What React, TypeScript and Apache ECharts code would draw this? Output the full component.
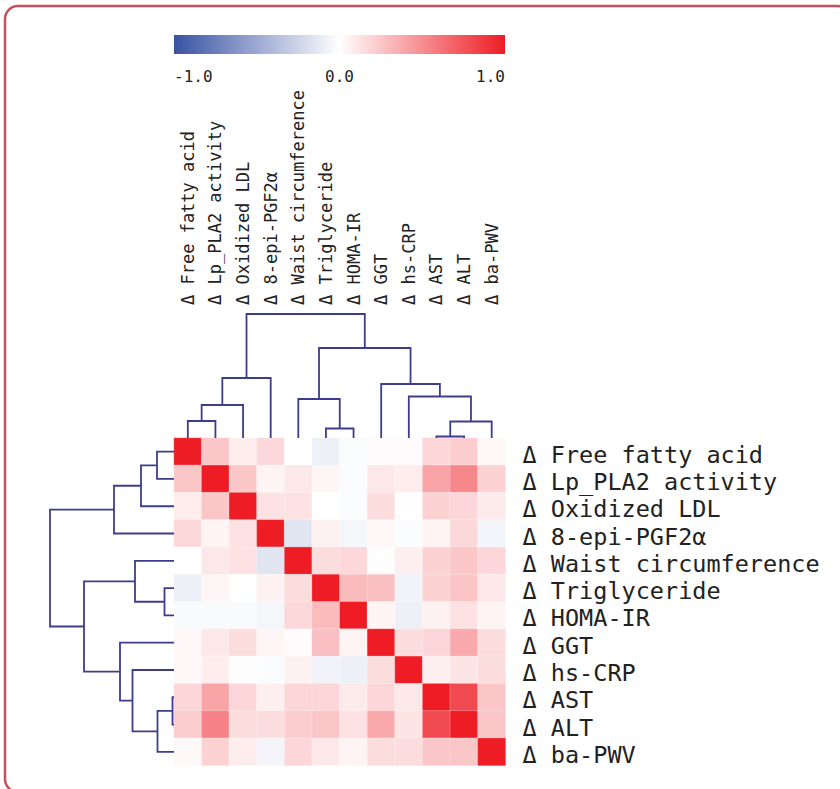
import React, { useEffect, useRef } from "react";
import * as echarts from "echarts";

// Variable names (same order for rows, top to bottom, and columns, left to right)
const variables = [
  "Δ Free fatty acid",
  "Δ Lp_PLA2 activity",
  "Δ Oxidized LDL",
  "Δ 8-epi-PGF2α",
  "Δ Waist circumference",
  "Δ Triglyceride",
  "Δ HOMA-IR",
  "Δ GGT",
  "Δ hs-CRP",
  "Δ AST",
  "Δ ALT",
  "Δ ba-PWV",
];

// Correlation values, one row per variable
const rowFFA = [1.0, 0.25, 0.08, 0.17, 0.0, -0.09, -0.02, 0.02, 0.02, 0.18, 0.22, 0.03];
const rowLpPLA2 = [0.25, 1.0, 0.25, 0.05, 0.1, 0.04, -0.02, 0.1, 0.08, 0.4, 0.53, 0.2];
const rowOxLDL = [0.08, 0.25, 1.0, 0.13, 0.13, 0.0, -0.02, 0.15, 0.01, 0.2, 0.18, 0.09];
const rowEpi = [0.17, 0.05, 0.13, 1.0, -0.15, 0.06, -0.05, 0.03, -0.02, 0.05, 0.17, -0.06];
const rowWaist = [0.0, 0.1, 0.13, -0.15, 1.0, 0.15, 0.17, 0.01, 0.07, 0.2, 0.25, 0.18];
const rowTG = [-0.09, 0.04, 0.0, 0.06, 0.15, 1.0, 0.3, 0.28, -0.07, 0.2, 0.26, 0.1];
const rowHOMA = [-0.03, -0.03, -0.03, -0.05, 0.17, 0.3, 1.0, 0.05, -0.09, 0.06, 0.13, 0.05];
const rowGGT = [0.03, 0.1, 0.15, 0.04, 0.02, 0.28, 0.05, 1.0, 0.15, 0.18, 0.38, 0.15];
const rowCRP = [0.03, 0.08, -0.01, -0.02, 0.06, -0.07, -0.09, 0.15, 1.0, 0.07, 0.12, 0.15];
const rowAST = [0.18, 0.4, 0.18, 0.07, 0.18, 0.18, 0.09, 0.18, 0.1, 1.0, 0.8, 0.25];
const rowALT = [0.22, 0.55, 0.15, 0.15, 0.22, 0.25, 0.13, 0.38, 0.12, 0.8, 1.0, 0.25];
const rowPWV = [0.03, 0.2, 0.08, -0.06, 0.18, 0.1, 0.05, 0.15, 0.15, 0.25, 0.25, 1.0];
const corrRows = [
  rowFFA, rowLpPLA2, rowOxLDL, rowEpi, rowWaist, rowTG,
  rowHOMA, rowGGT, rowCRP, rowAST, rowALT, rowPWV,
];

// Hierarchical clustering: [left child, right child, merge height]; ids 0..11 leaves, 12+ merges
const linkage: [number, number, number][] = [
  [0, 1, 17],
  [12, 2, 33],
  [13, 3, 60],
  [5, 6, 9.5],
  [4, 15, 39],
  [9, 10, 1.5],
  [17, 11, 16.5],
  [8, 18, 41.5],
  [7, 19, 54],
  [16, 20, 90],
  [14, 21, 124],
];
const maxHeight = 124;

// Colour scale and colour-bar ticks
const scaleColors = ["#3953a4", "#ffffff", "#ee1c24"];
const colorbarMin = -1;
const colorbarMax = 1;
const colorbarInterval = 1;

const DENDRO_COLOR = "#3d3d8e";
const MONO = "'DejaVu Sans Mono', 'Liberation Mono', monospace";

function dendroSegments(orient: "top" | "left") {
  const n = variables.length;
  const pos: number[] = [];
  const hgt: number[] = [];
  for (let i = 0; i < n; i++) {
    pos.push(i + 0.5);
    hgt.push(0);
  }
  const segs: number[][][] = [];
  linkage.forEach(([a, b, h]) => {
    const pa = pos[a], pb = pos[b], ha = hgt[a], hb = hgt[b];
    const pts =
      orient === "top"
        ? [[pa, ha], [pa, h], [pb, h], [pb, hb]]
        : [[ha, pa], [h, pa], [h, pb], [hb, pb]];
    segs.push(pts);
    pos.push((pa + pb) / 2);
    hgt.push(h);
  });
  return segs;
}

export default function App() {
  const ref = useRef<HTMLDivElement>(null);

  useEffect(() => {
    if (!ref.current) return;
    const chart = echarts.init(ref.current, null, { renderer: "svg" });

    const heatData: number[][] = [];
    corrRows.forEach((row, r) => {
      row.forEach((v, c) => heatData.push([c, r, v]));
    });

    const HM_LEFT = 174;
    const HM_TOP = 438;
    const HM_W = 331.5;
    const HM_H = 327.5;

    const option: any = {
      animation: false,
      backgroundColor: "#ffffff",
      graphic: [
        {
          type: "rect",
          shape: { x: 5, y: 6, width: 845, height: 786, r: 13 },
          style: { fill: "none", stroke: "#c5525a", lineWidth: 2.5 },
          z: 10,
        },
        {
          type: "rect",
          shape: { x: HM_LEFT, y: 35, width: 331, height: 19 },
          style: {
            fill: new echarts.graphic.LinearGradient(0, 0, 1, 0, [
              { offset: 0, color: scaleColors[0] },
              { offset: 0.5, color: scaleColors[1] },
              { offset: 1, color: scaleColors[2] },
            ]),
          },
        },
      ],
      visualMap: {
        show: false,
        type: "continuous",
        min: colorbarMin,
        max: colorbarMax,
        seriesIndex: 0,
        inRange: { color: scaleColors },
      },
      grid: [
        { left: HM_LEFT, top: HM_TOP, width: HM_W, height: HM_H },
        { left: HM_LEFT, top: HM_TOP - maxHeight, width: HM_W, height: maxHeight },
        { left: HM_LEFT - maxHeight, top: HM_TOP, width: maxHeight, height: HM_H },
        { left: HM_LEFT, top: 35, width: 331, height: 19 },
        { left: HM_LEFT, top: HM_TOP + 3, width: HM_W, height: HM_H },
      ],
      xAxis: [
        {
          gridIndex: 0,
          type: "category",
          data: variables,
          position: "top",
          offset: maxHeight,
          axisLine: { show: false },
          axisTick: { show: false },
          splitLine: { show: false },
          axisLabel: {
            rotate: -90,
            align: "left",
            verticalAlign: "middle",
            interval: 0,
            margin: 9,
            fontFamily: MONO,
            fontSize: 17,
            color: "#222",
          },
        },
        { gridIndex: 1, type: "value", min: 0, max: variables.length, show: false },
        { gridIndex: 2, type: "value", min: 0, max: maxHeight, inverse: true, show: false },
        {
          gridIndex: 3,
          type: "value",
          min: colorbarMin,
          max: colorbarMax,
          interval: colorbarInterval,
          axisLine: { show: false },
          axisTick: { show: false },
          splitLine: { show: false },
          axisLabel: {
            margin: 14,
            fontFamily: MONO,
            fontSize: 16,
            color: "#222",
            showMinLabel: true,
            showMaxLabel: true,
            alignMinLabel: "left",
            alignMaxLabel: "right",
            formatter: (v: number) => v.toFixed(1),
          },
        },
        { gridIndex: 4, type: "value", min: 0, max: 1, show: false },
      ],
      yAxis: [
        {
          gridIndex: 0,
          type: "category",
          data: variables,
          inverse: true,
          show: false,
        },
        { gridIndex: 1, type: "value", min: 0, max: maxHeight, show: false },
        { gridIndex: 2, type: "value", min: 0, max: variables.length, inverse: true, show: false },
        { gridIndex: 3, type: "value", min: 0, max: 1, show: false },
        {
          gridIndex: 4,
          type: "category",
          data: variables,
          inverse: true,
          position: "right",
          axisLine: { show: false },
          axisTick: { show: false },
          splitLine: { show: false },
          axisLabel: {
            interval: 0,
            margin: 17,
            fontFamily: MONO,
            fontSize: 23.5,
            color: "#222",
          },
        },
      ],
      series: [
        {
          type: "heatmap",
          xAxisIndex: 0,
          yAxisIndex: 0,
          data: heatData,
          itemStyle: { borderColor: "rgba(255,255,255,0.5)", borderWidth: 0.5 },
          emphasis: { disabled: true },
        },
        {
          type: "lines",
          coordinateSystem: "cartesian2d",
          xAxisIndex: 1,
          yAxisIndex: 1,
          polyline: true,
          silent: true,
          data: dendroSegments("top").map((c) => ({ coords: c })),
          lineStyle: { color: DENDRO_COLOR, width: 1.8, opacity: 1 },
        },
        {
          type: "lines",
          coordinateSystem: "cartesian2d",
          xAxisIndex: 2,
          yAxisIndex: 2,
          polyline: true,
          silent: true,
          data: dendroSegments("left").map((c) => ({ coords: c })),
          lineStyle: { color: DENDRO_COLOR, width: 1.8, opacity: 1 },
        },
        {
          type: "scatter",
          xAxisIndex: 3,
          yAxisIndex: 3,
          data: [],
          silent: true,
        },
        {
          type: "scatter",
          xAxisIndex: 4,
          yAxisIndex: 4,
          data: [],
          silent: true,
        },
      ],
    };

    chart.setOption(option);
    return () => chart.dispose();
  }, []);

  return (
    <div
      ref={ref}
      style={{ position: "fixed", left: 0, top: 0, width: 840, height: 789, background: "#fff" }}
    />
  );
}
